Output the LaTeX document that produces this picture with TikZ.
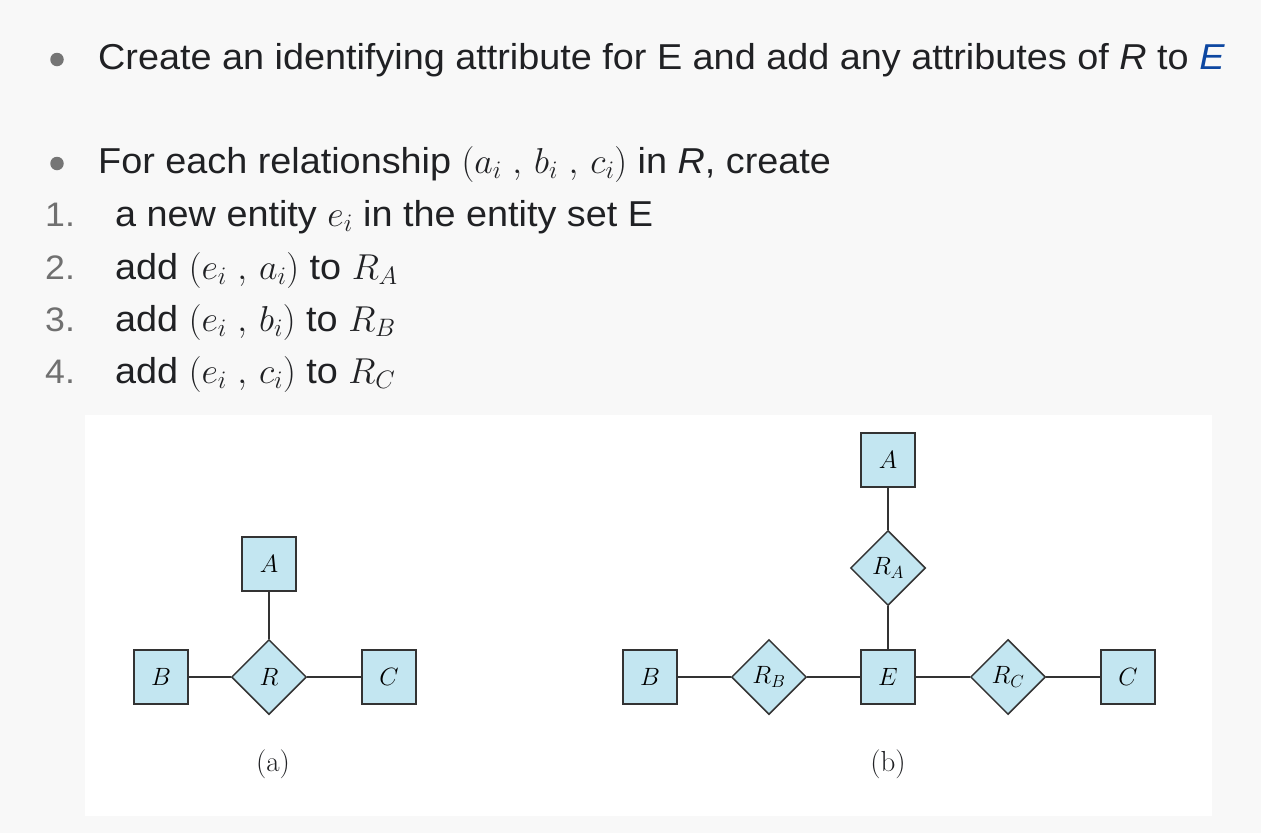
\RequirePackage{fix-cm}
\documentclass[tikz,border=0pt]{standalone}
\usepackage{fontspec}
\setmainfont{Liberation Sans}[FakeStretch=1.05]
\newfontfamily\lmr{Latin Modern Roman}
\usetikzlibrary{shapes.geometric}
\definecolor{bgc}{HTML}{F8F8F8}
\definecolor{txt}{HTML}{202124}
\definecolor{numc}{HTML}{707070}
\definecolor{bulc}{HTML}{757575}
\definecolor{blueE}{HTML}{0D47A1}
\definecolor{boxfill}{HTML}{C3E6F1}
\definecolor{boxline}{HTML}{333333}
\tikzset{
  maintext/.style={anchor=base west, inner sep=0, text=txt, font=\fontsize{36}{43}\selectfont},
  numtext/.style={anchor=base west, inner sep=0, text=numc, font=\fontsize{34}{43}\selectfont},
  bulletdot/.style={circle, fill=bulc, minimum size=13.5, inner sep=0},
  ent/.style={draw=boxline, line width=1.5pt, fill=boxfill, minimum width=54, minimum height=54, inner sep=0, font=\fontsize{25}{25}\selectfont},
  rel/.style={diamond, aspect=1, draw=boxline, line width=1.5pt, fill=boxfill, minimum width=75, minimum height=75, inner sep=0, font=\fontsize{25}{25}\selectfont},
  conn/.style={draw=boxline, line width=1.4pt},
  thinconn/.style={draw=boxline, line width=1.1pt},
  captxt/.style={font=\lmr\fontsize{29}{29}\selectfont, text=txt, inner sep=0}
}
\begin{document}
\begin{tikzpicture}[x=1pt,y=-1pt]
\fill[bgc] (0,0) rectangle (1261,833);
\useasboundingbox (0,0) rectangle (1261,833);
\fill[white] (85,415) rectangle (1212,816);

% bullets and text
\node[bulletdot] (bul1) at (57,59.5) {};
\node[maintext] (line1) at (98,69) {Create an identifying attribute for E and add any attributes of \textit{R} to \textcolor{blueE}{\textit{E}}};
\node[bulletdot] (bul2) at (57,163.5) {};
\node[maintext] (line2) at (98,173.5) {For each relationship $(a_i\ ,\,b_i\ ,\,c_i)$ in \textit{R}, create};
\node[numtext] (n1) at (45,226) {1.};
\node[maintext] (it1) at (115,226) {a new entity $e_i$ in the entity set E};
\node[numtext] (n2) at (45,279) {2.};
\node[maintext] (it2) at (115,279) {add $(e_i\ ,\,a_i)$ to $R_A$};
\node[numtext] (n3) at (45,331) {3.};
\node[maintext] (it3) at (115,331) {add $(e_i\ ,\,b_i)$ to $R_B$};
\node[numtext] (n4) at (45,383.5) {4.};
\node[maintext] (it4) at (115,383.5) {add $(e_i\ ,\,c_i)$ to $R_C$};

% diagram (a)
\node[ent] (aA) at (269,564) {$A$};
\node[ent] (aB) at (161,677) {$B$};
\node[ent] (aC) at (389,677) {$C$};
\node[rel] (aR) at (269,677) {$R$};
\draw[conn] (aA) -- (aR);
\draw[conn] (aB) -- (aR);
\draw[conn] (aR) -- (aC);
\node[captxt] (capa) at (273,764) {(a)};

% diagram (b)
\node[ent] (bA) at (888,460) {$A$};
\node[rel] (bRA) at (888,568) {$R_A$};
\node[ent] (bE) at (888,677) {$E$};
\node[ent] (bB) at (650,677) {$B$};
\node[rel] (bRB) at (769,677) {$R_B$};
\node[rel] (bRC) at (1008,677) {$R_C$};
\node[ent] (bC) at (1128,677) {$C$};
\draw[thinconn] (bA) -- (bRA);
\draw[thinconn] (bRA) -- (bE);
\draw[conn] (bB) -- (bRB);
\draw[conn] (bRB) -- (bE);
\draw[conn] (bE) -- (bRC);
\draw[conn] (bRC) -- (bC);
\node[captxt] (capb) at (888,764) {(b)};
\end{tikzpicture}
\end{document}
